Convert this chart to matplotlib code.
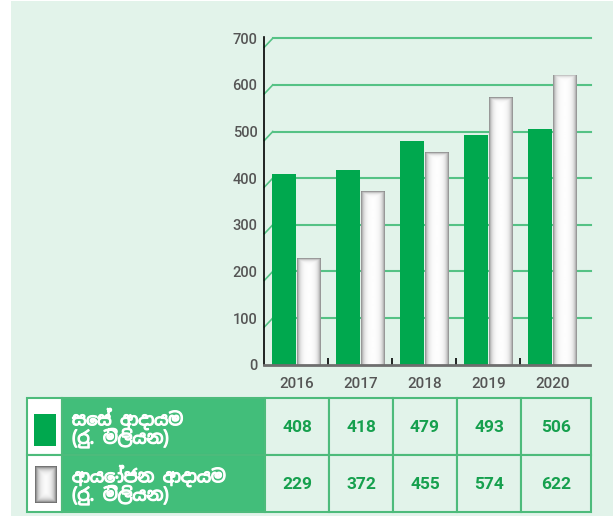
import numpy as np
import matplotlib
matplotlib.use("Agg")
import matplotlib.pyplot as plt
import matplotlib.patheffects as pe
from matplotlib.patches import Rectangle
from matplotlib import font_manager

# data
years = ["2016", "2017", "2018", "2019", "2020"]
cess_income = [408, 418, 479, 493, 506]
invest_income = [229, 372, 455, 574, 622]
row_labels = ["සෙස් ආදායම\n(රු. මිලියන)", "ආයෝජන ආදායම\n(රු. මිලියන)"]
yticks = [0, 100, 200, 300, 400, 500, 600, 700]

# colours
BG = "#e2f3ea"
GREEN = "#00a84e"
GRID = "#55c285"
LABEL_FILL = "#42be7a"
BORDER = "#4dbb7b"
VALUE_TXT = "#16a04e"
TICK_TXT = "#555555"

num_family = ["Roboto", "DejaVu Sans"]
sinhala = sorted({f.name for f in font_manager.fontManager.ttflist if "Sinhala" in f.name})
label_family = sinhala[:1] + ["Noto Sans", "DejaVu Sans"]

W, H = 613, 517
fig = plt.figure(figsize=(W / 100, H / 100), dpi=100)
fig.patch.set_facecolor("white")

# background / table axes in pixel coords
bg = fig.add_axes([0, 0, 1, 1])
bg.set_xlim(0, W)
bg.set_ylim(H, 0)
bg.axis("off")
bg.add_patch(Rectangle((11, 1), W - 11, 515, facecolor=BG, edgecolor="none"))

# main chart
ax_l, ax_r, ax_t, ax_b = 264.3, 590, 37.3, 364.7
ax = fig.add_axes([ax_l / W, (H - ax_b) / H, (ax_r - ax_l) / W, (ax_b - ax_t) / H])
ax.patch.set_alpha(0)
x = np.arange(len(years))
ax.set_xlim(-0.5, 4.586)
ax.set_ylim(0, 702)

px_per_x = (ax_r - ax_l) / (4.586 + 0.5)
px_per_y = (ax_b - ax_t) / 702

# gridlines with small perspective stub
x_start = -0.5 + 8.5 / px_per_x
drop = 9 / px_per_y
for v in yticks[1:]:
    ax.plot([x_start, 4.605], [v, v], color=GRID, lw=1.5, clip_on=False, zorder=1)
    ax.plot([-0.5, x_start], [v - drop, v], color=GRID, lw=1.2, clip_on=False, zorder=1)

bw = 0.37
off = 0.195
ax.bar(x - off, cess_income, width=bw, color=GREEN, zorder=2)
wbars = ax.bar(x + off, invest_income, width=bw, color="white", zorder=2)

# shaded white bars
bar_px = bw * px_per_x
for rect in wbars:
    h = rect.get_height()
    h_px = h * px_per_y
    rows, cols = max(int(h_px * 2), 2), 48
    dx = (np.arange(cols) + 0.5) / cols * bar_px
    dy = (1 - (np.arange(rows) + 0.5) / rows) * h_px
    dark_h = 0.5 * np.maximum(np.exp(-dx / 2.5), np.exp(-(bar_px - dx) / 2.5))
    dark_v = 0.55 * np.exp(-dy / 1.6)
    dark = np.maximum(dark_h[None, :], dark_v[:, None])
    img = 1 - dark
    x0 = rect.get_x()
    im = ax.imshow(img, extent=(x0, x0 + rect.get_width(), 0, h), origin="lower",
                   cmap="gray", vmin=0, vmax=1, aspect="auto", interpolation="bilinear", zorder=3)
    im.set_clip_path(rect)
ax.set_xlim(-0.5, 4.586)
ax.set_ylim(0, 702)

for s in ["top", "right"]:
    ax.spines[s].set_visible(False)
ax.spines["left"].set_color("black")
ax.spines["left"].set_linewidth(1.2)
ax.spines["bottom"].set_color("#6e6e6e")
ax.spines["bottom"].set_linewidth(2)
ax.spines["bottom"].set_zorder(4)

ax.set_yticks(yticks)
ax.set_yticklabels([str(v) for v in yticks], family=num_family, fontweight="medium")
ax.set_xticks(x)
ax.set_xticklabels(years, family=num_family, fontweight="medium")
ax.set_xticks([0.5, 1.5, 2.5, 3.5], minor=True)
ax.tick_params(axis="y", length=0, pad=5, labelsize=10.5, labelcolor=TICK_TXT)
ax.tick_params(axis="x", which="major", length=0, pad=9, labelsize=11, labelcolor=TICK_TXT)
ax.tick_params(axis="x", which="minor", direction="in", length=5, width=1.2, color="black")

# table
row_y = [398, 455, 512]
col_x = [27, 62, 265, 329, 393, 457, 521, 591]
bold_fx = [pe.withStroke(linewidth=0.9, foreground="white")]
for r in range(2):
    y0, y1 = row_y[r], row_y[r + 1]
    bg.add_patch(Rectangle((col_x[0], y0), col_x[1] - col_x[0], y1 - y0,
                           facecolor="white", edgecolor=BORDER, lw=1.5))
    bg.add_patch(Rectangle((col_x[1], y0), col_x[2] - col_x[1], y1 - y0,
                           facecolor=LABEL_FILL, edgecolor=BORDER, lw=1.5))
    for c in range(2, 7):
        bg.add_patch(Rectangle((col_x[c], y0), col_x[c + 1] - col_x[c], y1 - y0,
                               facecolor=BG, edgecolor=BORDER, lw=1.5))
    line1, line2 = row_labels[r].split("\n")
    bg.text(72, y0 + 21, line1, color="white", fontsize=12.5, fontweight="bold",
            family=label_family, ha="left", va="center", path_effects=bold_fx)
    bg.text(72, y0 + 40, line2, color="white", fontsize=12.5, fontweight="bold",
            family=label_family, ha="left", va="center", path_effects=bold_fx)

series = [cess_income, invest_income]
for r, vals in enumerate(series):
    yc = (row_y[r] + row_y[r + 1]) / 2 + 1
    for c, v in enumerate(vals):
        xc = (col_x[c + 2] + col_x[c + 3]) / 2
        bg.text(xc, yc, str(v), color=VALUE_TXT, fontsize=12.5, fontweight="bold",
                family=num_family, ha="center", va="center")

# legend swatches
bg.add_patch(Rectangle((34, 414), 22, 32, facecolor=GREEN, edgecolor="none"))
sw_w, sw_h = 22, 37
gx = (np.arange(44) + 0.5) / 44 * sw_w
gy = (np.arange(74) + 0.5) / 74 * sw_h
dxm = np.minimum(gx, sw_w - gx)
dym = np.minimum(gy, sw_h - gy)
dark = 0.65 * np.maximum(np.exp(-dxm / 3.0)[None, :], np.exp(-dym / 3.0)[:, None])
bg.imshow(1 - dark, extent=(35, 35 + sw_w, 466 + sw_h, 466), cmap="gray", vmin=0, vmax=1,
          aspect="auto", interpolation="bilinear", zorder=3)
bg.set_xlim(0, W)
bg.set_ylim(H, 0)

fig.savefig("out.png", dpi=100)
